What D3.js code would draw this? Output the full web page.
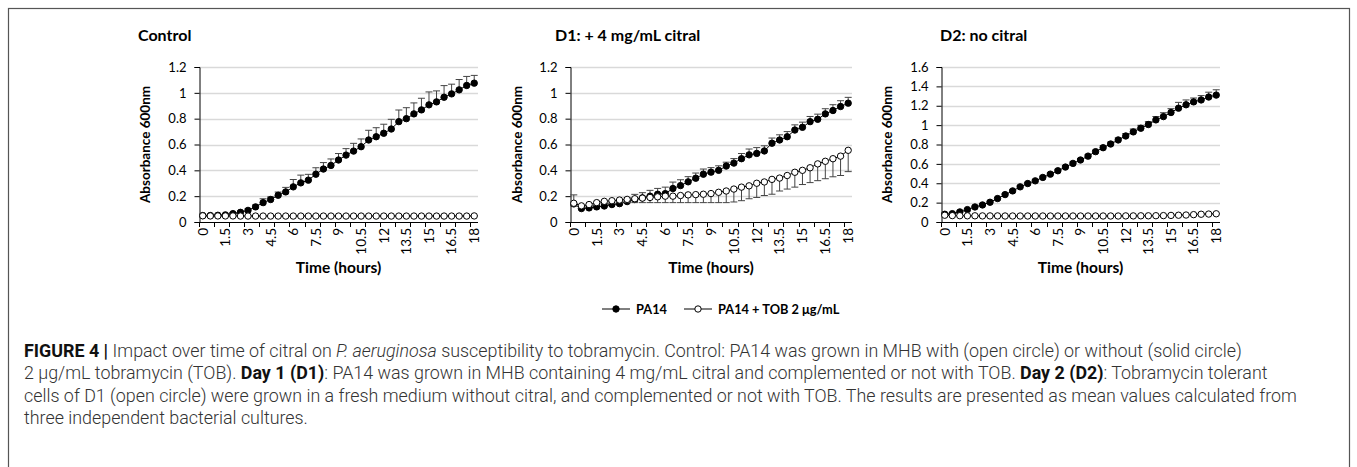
<!DOCTYPE html>
<html><head><meta charset="utf-8">
<script src="https://cdn.jsdelivr.net/npm/d3@7"></script>
<style>body{margin:0;background:#fff}svg{display:block}</style>
</head><body><svg id="c" width="1357" height="467"></svg>
<script>
// ---------- DATA ----------
const timeLabels = ["0","0.5","1","1.5","2","2.5","3","3.5","4","4.5","5","5.5","6","6.5","7","7.5","8","8.5","9","9.5","10","10.5","11","11.5","12","12.5","13","13.5","14","14.5","15","15.5","16","16.5","17","17.5","18"];
const xTickLabels = ["0","1.5","3","4.5","6","7.5","9","10.5","12","13.5","15","16.5","18"];
const seriesNames = ["PA14","PA14 + TOB 2 \u03bcg/mL"];
const panelTitles = ["Control","D1: + 4 mg/mL citral","D2: no citral"];
const yTicks12 = [0,0.2,0.4,0.6,0.8,1,1.2];
const yTicks16 = [0,0.2,0.4,0.6,0.8,1,1.2,1.4,1.6];

// Control
const ctrlPA14    = [0.05,0.05,0.052,0.055,0.065,0.075,0.09,0.117,0.15,0.174,0.207,0.233,0.272,0.303,0.324,0.37,0.41,0.438,0.48,0.518,0.549,0.583,0.635,0.66,0.687,0.72,0.777,0.80,0.837,0.868,0.907,0.93,0.966,0.992,1.023,1.057,1.075];
const ctrlPA14Err = [0.005,0.005,0.005,0.005,0.008,0.01,0.012,0.015,0.03,0.02,0.025,0.035,0.057,0.06,0.045,0.05,0.05,0.05,0.05,0.05,0.06,0.06,0.075,0.07,0.07,0.075,0.09,0.085,0.085,0.09,0.1,0.085,0.09,0.075,0.08,0.07,0.06];
const ctrlTOB     = [0.048,0.047,0.047,0.047,0.047,0.046,0.046,0.046,0.046,0.046,0.046,0.046,0.046,0.046,0.046,0.046,0.046,0.046,0.046,0.046,0.046,0.046,0.046,0.046,0.046,0.046,0.046,0.046,0.046,0.046,0.046,0.046,0.046,0.046,0.046,0.046,0.047];
const ctrlTOBErr  = [0.003,0.003,0.003,0.003,0.003,0.003,0.003,0.003,0.003,0.003,0.003,0.003,0.003,0.003,0.003,0.003,0.003,0.003,0.003,0.003,0.003,0.003,0.003,0.003,0.003,0.003,0.003,0.003,0.003,0.003,0.003,0.003,0.003,0.003,0.003,0.003,0.003];

// D1 (+ citral)
const d1PA14      = [0.14,0.104,0.109,0.117,0.124,0.135,0.142,0.158,0.174,0.187,0.2,0.215,0.22,0.259,0.282,0.311,0.339,0.37,0.386,0.40,0.433,0.456,0.49,0.52,0.531,0.55,0.61,0.635,0.66,0.712,0.733,0.777,0.795,0.837,0.863,0.894,0.92];
const d1PA14Err   = [0.07,0.015,0.015,0.015,0.02,0.02,0.02,0.03,0.04,0.04,0.045,0.045,0.05,0.05,0.045,0.04,0.04,0.04,0.035,0.035,0.03,0.035,0.04,0.045,0.045,0.04,0.04,0.04,0.04,0.04,0.04,0.04,0.04,0.04,0.045,0.045,0.045];
const d1TOB       = [0.145,0.125,0.135,0.15,0.16,0.165,0.17,0.175,0.18,0.185,0.19,0.195,0.2,0.2,0.205,0.21,0.212,0.215,0.22,0.23,0.24,0.255,0.27,0.28,0.30,0.31,0.33,0.34,0.36,0.385,0.40,0.42,0.45,0.47,0.49,0.51,0.555];
const d1TOBErr    = [0.02,0.01,0.01,0.01,0.015,0.02,0.02,0.025,0.03,0.035,0.04,0.045,0.05,0.05,0.055,0.06,0.062,0.065,0.07,0.08,0.09,0.1,0.105,0.1,0.11,0.105,0.115,0.1,0.105,0.115,0.11,0.115,0.13,0.135,0.14,0.15,0.165];

// D2 (no citral)
const d2PA14      = [0.08,0.086,0.104,0.128,0.155,0.176,0.204,0.242,0.283,0.321,0.363,0.397,0.425,0.46,0.494,0.529,0.567,0.605,0.64,0.68,0.726,0.767,0.805,0.847,0.888,0.93,0.968,1.006,1.054,1.088,1.13,1.175,1.21,1.24,1.26,1.29,1.31];
const d2PA14Err   = [0.01,0.01,0.01,0.01,0.01,0.01,0.01,0.01,0.01,0.01,0.012,0.012,0.012,0.012,0.012,0.015,0.015,0.015,0.015,0.015,0.015,0.02,0.02,0.02,0.025,0.03,0.03,0.03,0.035,0.04,0.04,0.06,0.05,0.04,0.045,0.05,0.055];
const d2TOB       = [0.07,0.066,0.065,0.064,0.064,0.063,0.063,0.063,0.062,0.062,0.062,0.062,0.062,0.062,0.062,0.062,0.062,0.062,0.062,0.062,0.062,0.062,0.062,0.062,0.063,0.063,0.064,0.064,0.065,0.066,0.068,0.07,0.072,0.076,0.08,0.082,0.085];
const d2TOBErr    = [0.004,0.004,0.004,0.004,0.004,0.004,0.004,0.004,0.004,0.004,0.004,0.004,0.004,0.004,0.004,0.004,0.004,0.004,0.004,0.004,0.004,0.004,0.004,0.004,0.004,0.004,0.004,0.004,0.004,0.004,0.004,0.004,0.004,0.004,0.004,0.004,0.004];

// ---------- LAYOUT ----------
const svg = d3.select("#c");
const FONT = "Lato, 'Open Sans', sans-serif";
const yTop = 67, yBot = 222;

svg.append("rect").attr("x",8.5).attr("y",8.5).attr("width",1341).attr("height",470)
  .attr("fill","none").attr("stroke","#555").attr("stroke-width",1.2);

const panels = [
  {x0:199, x1:478, ymax:1.2, ticks:yTicks12, title:panelTitles[0], tx:138, ytx:145,
   s:[{v:ctrlPA14,e:ctrlPA14Err,dir:1,open:false},{v:ctrlTOB,e:ctrlTOBErr,dir:1,open:true}]},
  {x0:570, x1:852, ymax:1.2, ticks:yTicks12, title:panelTitles[1], tx:555, ytx:517,
   s:[{v:d1PA14,e:d1PA14Err,dir:1,open:false},{v:d1TOB,e:d1TOBErr,dir:-1,open:true}]},
  {x0:941, x1:1220, ymax:1.6, ticks:yTicks16, title:panelTitles[2], tx:940, ytx:887,
   s:[{v:d2PA14,e:d2PA14Err,dir:1,open:false},{v:d2TOB,e:d2TOBErr,dir:1,open:true}]}
];

panels.forEach(p => {
  const g = svg.append("g");
  const x = d3.scaleBand().domain(timeLabels).range([p.x0,p.x1]).padding(0);
  const xi = d3.scaleLinear().domain([0,timeLabels.length]).range([p.x0,p.x1]);
  const y = d3.scaleLinear().domain([0,p.ymax]).range([yBot,yTop]);
  const cx = d => x(d) + x.bandwidth()/2;

  // gridlines
  g.append("g").selectAll("line").data(p.ticks.filter(t=>t>0)).join("line")
    .attr("x1",p.x0).attr("x2",p.x1).attr("y1",d=>Math.round(y(d))+0.5).attr("y2",d=>Math.round(y(d))+0.5)
    .attr("stroke","#d9d9d9").attr("stroke-width",1.3);

  // y axis
  const ya = g.append("g").attr("transform",`translate(${p.x0+0.5},0)`)
    .call(d3.axisLeft(y).tickValues(p.ticks).tickFormat(d3.format("~g")).tickSize(5).tickPadding(8));
  ya.select(".domain").attr("stroke","#000");
  ya.selectAll(".tick line").attr("stroke","#000");
  ya.selectAll("text").attr("font-family",FONT).attr("font-size",13).attr("fill","#000");

  // x axis labels
  const xa = g.append("g").attr("transform",`translate(0,${yBot})`)
    .call(d3.axisBottom(x).tickValues(xTickLabels).tickSize(0));
  xa.select(".domain").remove();
  xa.selectAll("text").attr("transform","rotate(-90)").attr("text-anchor","end")
    .attr("x",-6).attr("y",0).attr("dy","0.36em")
    .attr("font-family",FONT).attr("font-size",13.5).attr("fill","#000");
  // x tick marks (every 2 categories)
  g.append("g").selectAll("line").data(d3.range(0,timeLabels.length+1,2)).join("line")
    .attr("x1",d=>Math.round(xi(d))+0.5).attr("x2",d=>Math.round(xi(d))+0.5)
    .attr("y1",yBot).attr("y2",yBot+5).attr("stroke","#000");
  g.append("line").attr("x1",p.x0).attr("x2",p.x1).attr("y1",yBot+0.5).attr("y2",yBot+0.5)
    .attr("stroke","#000").attr("stroke-width",1.2);

  // series
  p.s.forEach(s => {
    const pts = timeLabels.map((t,i)=>({t, v:s.v[i], e:s.e[i]}));
    const eb = g.append("g").attr("stroke","#444").attr("stroke-width",1);
    eb.selectAll("line.v").data(pts).join("line").attr("class","v")
      .attr("x1",d=>cx(d.t)).attr("x2",d=>cx(d.t))
      .attr("y1",d=>y(d.v)).attr("y2",d=>y(d.v + s.dir*d.e));
    eb.selectAll("line.c").data(pts).join("line").attr("class","c")
      .attr("x1",d=>cx(d.t)-3.5).attr("x2",d=>cx(d.t)+3.5)
      .attr("y1",d=>y(d.v + s.dir*d.e)).attr("y2",d=>y(d.v + s.dir*d.e));
    g.append("path").datum(pts).attr("fill","none").attr("stroke","#000").attr("stroke-width",1)
      .attr("d", d3.line().x(d=>cx(d.t)).y(d=>y(d.v)));
    g.append("g").selectAll("circle").data(pts).join("circle")
      .attr("cx",d=>cx(d.t)).attr("cy",d=>y(d.v)).attr("r",3.2)
      .attr("fill", s.open ? "#fff" : "#000").attr("stroke","#000").attr("stroke-width",1);
  });

  // titles
  svg.append("text").attr("x",p.tx).attr("y",41).text(p.title)
    .attr("font-family",FONT).attr("font-weight","bold").attr("font-size",16).attr("fill","#000");
  svg.append("text").attr("transform",`translate(${p.ytx},${(yTop+yBot)/2}) rotate(-90)`)
    .attr("text-anchor","middle").attr("dy","0.35em").text("Absorbance 600nm")
    .attr("font-family",FONT).attr("font-weight","bold").attr("font-size",13.5).attr("fill","#000");
  svg.append("text").attr("x",(p.x0+p.x1)/2).attr("y",273).attr("text-anchor","middle").text("Time (hours)")
    .attr("font-family",FONT).attr("font-weight","bold").attr("font-size",15.5).attr("fill","#000");
});

// legend
const lg = svg.append("g");
const legendItems = [{x:602, open:false, name:seriesNames[0]},{x:684, open:true, name:seriesNames[1]}];
const legY = 309;
legendItems.forEach(it => {
  lg.append("line").attr("x1",it.x).attr("x2",it.x+28).attr("y1",legY).attr("y2",legY).attr("stroke","#000");
  lg.append("circle").attr("cx",it.x+14).attr("cy",legY).attr("r",3.2)
    .attr("fill",it.open?"#fff":"#000").attr("stroke","#000");
  lg.append("text").attr("x",it.x+34).attr("y",legY).attr("dy","0.36em").text(it.name)
    .attr("font-family",FONT).attr("font-weight","bold").attr("font-size",12.8).attr("fill","#000");
});

// caption
const capLines = [
  [["FIGURE 4 | ","b"],["Impact over time of citral on ",""],["P. aeruginosa","i"],[" susceptibility to tobramycin. Control: PA14 was grown in MHB with (open circle) or without (solid circle)",""]],
  [["2 \u03bcg/mL tobramycin (TOB). ",""],["Day 1 (D1)","b"],[": PA14 was grown in MHB containing 4 mg/mL citral and complemented or not with TOB. ",""],["Day 2 (D2)","b"],[": Tobramycin tolerant",""]],
  [["cells of D1 (open circle) were grown in a fresh medium without citral, and complemented or not with TOB. The results are presented as mean values calculated from",""]],
  [["three independent bacterial cultures.",""]]
];
const capY = [357,379,402,424];
const capTexts = capLines.map((ln,i) => {
  const t = svg.append("text").attr("x",24).attr("y",capY[i])
    .attr("font-family","Roboto, 'Liberation Sans', Arial, sans-serif").attr("font-weight",300)
    .attr("font-size",16).attr("fill","#333");
  ln.forEach(([s,st]) => {
    const ts = t.append("tspan").text(s);
    if (st==="b") ts.attr("font-weight","bold").attr("fill","#111");
    if (st==="i") ts.attr("font-style","italic");
  });
  return t;
});
const w3 = capTexts[2].node().getComputedTextLength();
const fs = 16 * 1273 / w3;
capTexts.forEach(t => t.attr("font-size", fs));
</script></body></html>
